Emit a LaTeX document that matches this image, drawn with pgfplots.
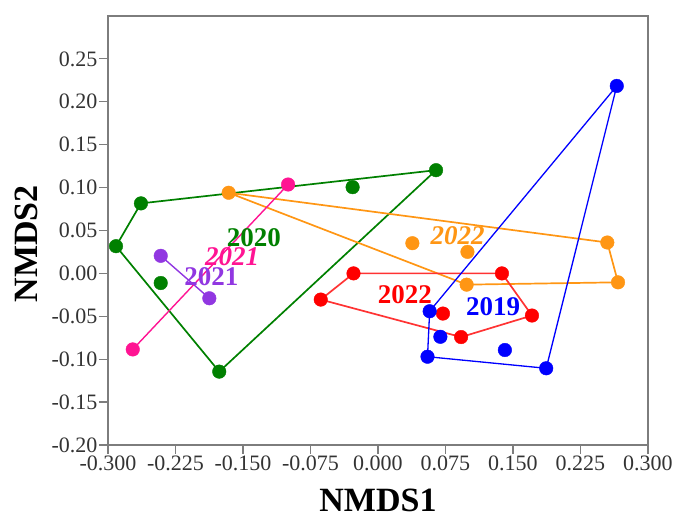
\documentclass[border=0pt]{standalone}
\usepackage{pgfplots}
\pgfplotsset{compat=1.18}
\usepackage{fontspec}
\setmainfont{Liberation Serif}
\definecolor{cgreen}{RGB}{0,128,0}
\definecolor{corange}{RGB}{255,150,20}
\definecolor{cpink}{RGB}{255,20,147}
\definecolor{cpurple}{RGB}{145,55,225}
\definecolor{cred}{RGB}{255,0,0}
\definecolor{cblue}{RGB}{0,0,255}
\definecolor{cframe}{RGB}{125,125,125}
\begin{document}
\begin{tikzpicture}
\begin{axis}[
  name=ax, at={(0,0)}, anchor=south west,
  scale only axis, width=540pt, height=429pt,
  xmin=-0.3, xmax=0.3, ymin=-0.2, ymax=0.3,
  xtick={-0.3,-0.225,-0.15,-0.075,0,0.075,0.15,0.225,0.3},
  xticklabels={-0.300,-0.225,-0.150,-0.075,0.000,0.075,0.150,0.225,0.300},
  ytick={-0.2,-0.15,-0.1,-0.05,0,0.05,0.1,0.15,0.2,0.25},
  yticklabels={-0.20,-0.15,-0.10,-0.05,0.00,0.05,0.10,0.15,0.20,0.25},
  xtick pos=bottom, ytick pos=left, tick align=outside,
  major tick length=9pt,
  axis line style={cframe, line width=1.6pt},
  tick style={cframe, line width=1.2pt},
  ticklabel style={font=\fontsize{22}{22}\selectfont, text=black!80},
  xticklabel style={yshift=2pt},
  yticklabel style={xshift=2pt},
  clip=false,
]
% hulls
\addplot[cgreen, line width=1.7pt] coordinates {(-0.2634,0.0816) (-0.2911,0.0317) (-0.1764,-0.1145) (0.0645,0.1203) (-0.2634,0.0816)};
\addplot[corange, line width=1.7pt] coordinates {(-0.1659,0.094) (0.2548,0.036) (0.2667,-0.0104) (0.0985,-0.0131) (-0.1659,0.094)};
\addplot[cred!80!white, line width=1.7pt] coordinates {(-0.0272,0.0) (0.1377,0.0) (0.1711,-0.0491) (0.0923,-0.0742) (-0.0636,-0.0305) (-0.0272,0.0)};
\addplot[cblue, line width=1.3pt] coordinates {(0.2653,0.2185) (0.0574,-0.0441) (0.055,-0.0971) (0.1869,-0.1106) (0.2653,0.2185)};
\addplot[cpurple, line width=1.4pt] coordinates {(-0.2414,0.0205) (-0.1874,-0.029)};
\addplot[cpink, line width=1.4pt] coordinates {(-0.0999,0.1036) (-0.2725,-0.0886)};
% points
\addplot[only marks, mark=*, mark size=6.8pt, cgreen] coordinates {(-0.2634,0.0816) (-0.2911,0.0317) (-0.2414,-0.0112) (-0.1764,-0.1145) (0.0645,0.1203) (-0.0282,0.1005)};
\addplot[only marks, mark=*, mark size=6.8pt, corange] coordinates {(-0.1659,0.094) (0.0382,0.0352) (0.0994,0.0251) (0.0985,-0.0131) (0.2548,0.036) (0.2667,-0.0104)};
\addplot[only marks, mark=*, mark size=6.8pt, cred] coordinates {(-0.0272,0.0) (0.1377,0.0) (-0.0636,-0.0305) (0.0722,-0.0468) (0.0923,-0.0742) (0.1711,-0.0491)};
\addplot[only marks, mark=*, mark size=6.8pt, cblue] coordinates {(0.2653,0.2185) (0.0574,-0.0441) (0.0693,-0.0739) (0.055,-0.0971) (0.141,-0.0893) (0.1869,-0.1106)};
\addplot[only marks, mark=*, mark size=6.8pt, cpurple] coordinates {(-0.2414,0.0205) (-0.1874,-0.029)};
\addplot[only marks, mark=*, mark size=6.8pt, cpink] coordinates {(-0.0999,0.1036) (-0.2725,-0.0886)};
% group labels
\node[text=cgreen, font=\fontsize{27}{27}\selectfont\bfseries] at (axis cs:-0.138,0.042) {2020};
\node[text=cpink, font=\fontsize{27}{27}\selectfont\bfseries\itshape] at (axis cs:-0.162,0.019) {2021};
\node[text=cpurple, font=\fontsize{27}{27}\selectfont\bfseries] at (axis cs:-0.185,-0.004) {2021};
\node[text=corange, font=\fontsize{27}{27}\selectfont\bfseries\itshape] at (axis cs:0.0884,0.0445) {2022};
\node[text=cred, font=\fontsize{27}{27}\selectfont\bfseries] at (axis cs:0.030,-0.0247) {2022};
\node[text=cblue, font=\fontsize{27}{27}\selectfont\bfseries] at (axis cs:0.128,-0.039) {2019};
% axis titles
\node[font=\fontsize{34}{34}\selectfont\bfseries] at ([yshift=-55pt]rel axis cs:0.5,0) {NMDS1};
\node[font=\fontsize{34}{34}\selectfont\bfseries, rotate=90] at ([xshift=-82pt]rel axis cs:0,0.469) {NMDS2};
\end{axis}
\pgfresetboundingbox
\path (ax.south west) +(-108pt,-73pt) rectangle +(567pt,445pt);
\end{tikzpicture}
\end{document}
